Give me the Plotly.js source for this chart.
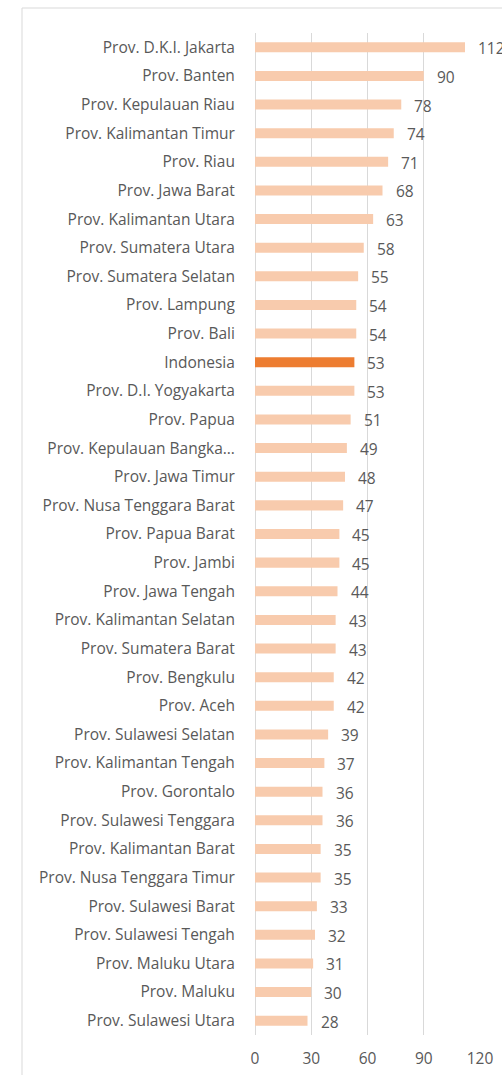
<!DOCTYPE html>
<html>
<head>
<meta charset="utf-8">
<script src="https://cdn.plot.ly/plotly-3.0.1.min.js"></script>
<style>
  html, body { margin: 0; padding: 0; background: #fff; }
  #gd { width: 502px; height: 1075px; }
</style>
</head>
<body>
<div id="gd"></div>
<script>
"use strict";

/* data, top to bottom as in the chart */
var provinces = [
	"Prov. D.K.I. Jakarta", "Prov. Banten", "Prov. Kepulauan Riau", "Prov. Kalimantan Timur",
	"Prov. Riau", "Prov. Jawa Barat", "Prov. Kalimantan Utara", "Prov. Sumatera Utara",
	"Prov. Sumatera Selatan", "Prov. Lampung", "Prov. Bali", "Indonesia",
	"Prov. D.I. Yogyakarta", "Prov. Papua", "Prov. Kepulauan Bangka…", "Prov. Jawa Timur",
	"Prov. Nusa Tenggara Barat", "Prov. Papua Barat", "Prov. Jambi", "Prov. Jawa Tengah",
	"Prov. Kalimantan Selatan", "Prov. Sumatera Barat", "Prov. Bengkulu", "Prov. Aceh",
	"Prov. Sulawesi Selatan", "Prov. Kalimantan Tengah", "Prov. Gorontalo", "Prov. Sulawesi Tenggara",
	"Prov. Kalimantan Barat", "Prov. Nusa Tenggara Timur", "Prov. Sulawesi Barat", "Prov. Sulawesi Tengah",
	"Prov. Maluku Utara", "Prov. Maluku", "Prov. Sulawesi Utara"
];
var values = [
	112, 90, 78, 74, 71, 68, 63, 58, 55, 54, 54, 53,
	53, 51, 49, 48, 47, 45, 45, 44, 43, 43, 42, 42,
	39, 37, 36, 36, 35, 35, 33, 32, 31, 30, 28
];
var xTicks = [0, 30, 60, 90, 120];
var highlight = "Indonesia";

var cLight = "#F8CBAD";
var cDark = "#ED7D31";
var cText = "#595959";
var font = "'Open Sans', 'DejaVu Sans', sans-serif";

function main()
{
	var gd = document.getElementById("gd");

	var colors = provinces.map(function (p) { return p === highlight ? cDark : cLight; });

	var bars = {
		type: 'bar',
		orientation: 'h',
		x: values,
		y: provinces,
		width: 0.35,
		marker: { color: colors },
		hoverinfo: 'x+y'
	};

	/* value labels sit a little to the right of each bar */
	var notes = provinces.map(function (p, i) {
		return {
			x: values[i], y: p,
			text: String(values[i]),
			showarrow: false,
			xanchor: 'left',
			xshift: 11,
			yshift: -1,
			font: { family: font, size: 15.5, color: cText }
		};
	});

	var layout = {
		width: 502,
		height: 1075,
		margin: { l: 255, r: 22, t: 33, b: 40, pad: 0 },
		paper_bgcolor: '#ffffff',
		plot_bgcolor: '#ffffff',
		showlegend: false,
		font: { family: font, size: 15.5, color: cText },
		xaxis: {
			range: [0, 120],
			tickvals: xTicks,
			ticktext: xTicks.map(String),
			showgrid: true,
			gridcolor: '#D9D9D9',
			gridwidth: 1,
			zeroline: true,
			zerolinecolor: '#D9D9D9',
			zerolinewidth: 1,
			showline: false,
			ticks: 'outside',
			ticklen: 9,
			tickcolor: 'rgba(0,0,0,0)',
			tickfont: { family: font, size: 15.5, color: cText },
			fixedrange: true
		},
		yaxis: {
			type: 'category',
			autorange: 'reversed',
			showgrid: false,
			zeroline: false,
			showline: false,
			ticks: 'outside',
			ticklen: 16,
			tickcolor: 'rgba(0,0,0,0)',
			tickfont: { family: font, size: 15.5, color: cText },
			fixedrange: true
		},
		annotations: notes,
		shapes: [{
			type: 'rect',
			xref: 'paper', yref: 'paper',
			x0: (22 - 255) / 225, x1: 2,
			y0: -0.2, y1: (1035 - 8) / 1002,
			line: { color: '#D9D9D9', width: 1 },
			fillcolor: 'rgba(0,0,0,0)',
			layer: 'below'
		}]
	};

	Plotly.newPlot(gd, [bars], layout, { displayModeBar: false, staticPlot: true });
}

main();
</script>
</body>
</html>
